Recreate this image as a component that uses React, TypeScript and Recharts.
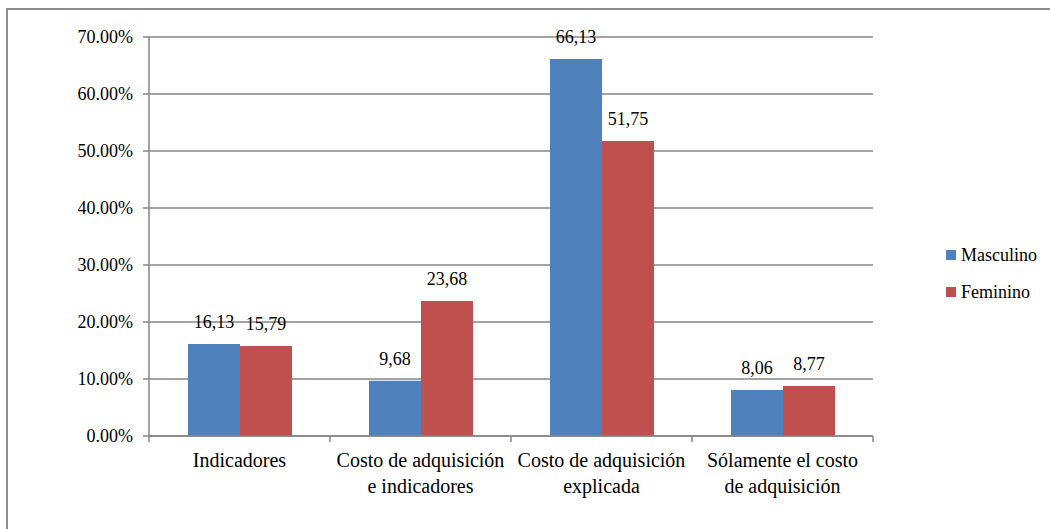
import { BarChart, Bar, XAxis, YAxis, CartesianGrid, Legend, LabelList } from 'recharts';

const categories = [
  'Indicadores',
  'Costo de adquisición\ne indicadores',
  'Costo de adquisición\nexplicada',
  'Sólamente el costo\nde adquisición',
];
const masculino = [16.13, 9.68, 66.13, 8.06];
const femenino = [15.79, 23.68, 51.75, 8.77];
const seriesOrder = ['Masculino', 'Feminino'];
const yTicks = [0, 10, 20, 30, 40, 50, 60, 70];

const data = categories.map((name, i) => ({
  name,
  Masculino: masculino[i],
  Feminino: femenino[i],
}));

const FONT = "'Liberation Serif', 'Times New Roman', 'DejaVu Serif', serif";
const AXIS = '#868686';

const CategoryTick = (props: any) => {
  const { x, y, payload, index, visibleTicksCount } = props;
  const half = payload.offset ?? 0;
  const lines = String(payload.value).split('\n');
  return (
    <g>
      <line x1={x - half} x2={x - half} y1={y} y2={y + 6} stroke={AXIS} strokeWidth={1.5} />
      {index === visibleTicksCount - 1 && (
        <line x1={x + half} x2={x + half} y1={y} y2={y + 6} stroke={AXIS} strokeWidth={1.5} />
      )}
      <text x={x} y={y} textAnchor="middle" fill="#000" style={{ fontSize: 20, fontFamily: FONT }}>
        {lines.map((l, i) => (
          <tspan key={i} x={x} y={y + 31 + i * 26}>{l}</tspan>
        ))}
      </text>
    </g>
  );
};

const LegendBox = (props: any) => {
  const items = [...(props.payload || [])].sort(
    (a: any, b: any) => seriesOrder.indexOf(a.value) - seriesOrder.indexOf(b.value)
  );
  return (
    <div style={{ fontFamily: FONT, fontSize: 18, color: '#000' }}>
      {items.map((p: any, i: number) => (
        <div key={i} style={{ display: 'flex', alignItems: 'center', height: 37, lineHeight: '18px' }}>
          <span style={{ display: 'inline-block', width: 10, height: 10, background: p.color, marginRight: 5 }} />
          <span>{p.value}</span>
        </div>
      ))}
    </div>
  );
};

const fmt = (v: any) => Number(v).toFixed(2).replace('.', ',');
const labelStyle = { fontSize: 18, fontFamily: FONT };

export default function App() {
  return (
    <div style={{ position: 'absolute', left: 0, top: 0, width: 1050, height: 529, overflow: 'hidden', background: '#fff', fontFamily: FONT }}>
      <div style={{ position: 'absolute', left: 6, top: 8, width: 1100, height: 600, border: '2px solid #8e8e8e' }} />
      <BarChart
        width={1050}
        height={529}
        data={data}
        margin={{ top: 37, right: 177, bottom: 0, left: 0 }}
        barGap={0}
        style={{ fontFamily: FONT }}
      >
        <CartesianGrid vertical={false} stroke={AXIS} strokeWidth={1.5} />
        <XAxis
          dataKey="name"
          height={93}
          tickLine={false}
          tickSize={0}
          tickMargin={0}
          axisLine={{ stroke: AXIS, strokeWidth: 1.5 }}
          tick={<CategoryTick />}
          interval={0}
        />
        <YAxis
          width={149}
          domain={[0, 70]}
          ticks={yTicks}
          tickFormatter={(v: number) => `${v.toFixed(2)}%`}
          tickSize={6}
          tickMargin={10}
          axisLine={{ stroke: AXIS, strokeWidth: 1.5 }}
          tickLine={{ stroke: AXIS, strokeWidth: 1.5 }}
          tick={{ fill: '#000', style: labelStyle }}
        />
        <Legend
          layout="vertical"
          align="center"
          verticalAlign="middle"
          content={<LegendBox />}
          wrapperStyle={{ left: 946, top: 236, width: 'auto' }}
        />
        <Bar dataKey="Masculino" name="Masculino" fill="#4F81BD" barSize={52} isAnimationActive={false}>
          <LabelList dataKey="Masculino" position="top" offset={16} formatter={fmt} fill="#000" style={labelStyle} />
        </Bar>
        <Bar dataKey="Feminino" name="Feminino" fill="#C0504D" barSize={52} isAnimationActive={false}>
          <LabelList dataKey="Feminino" position="top" offset={16} formatter={fmt} fill="#000" style={labelStyle} />
        </Bar>
      </BarChart>
    </div>
  );
}
